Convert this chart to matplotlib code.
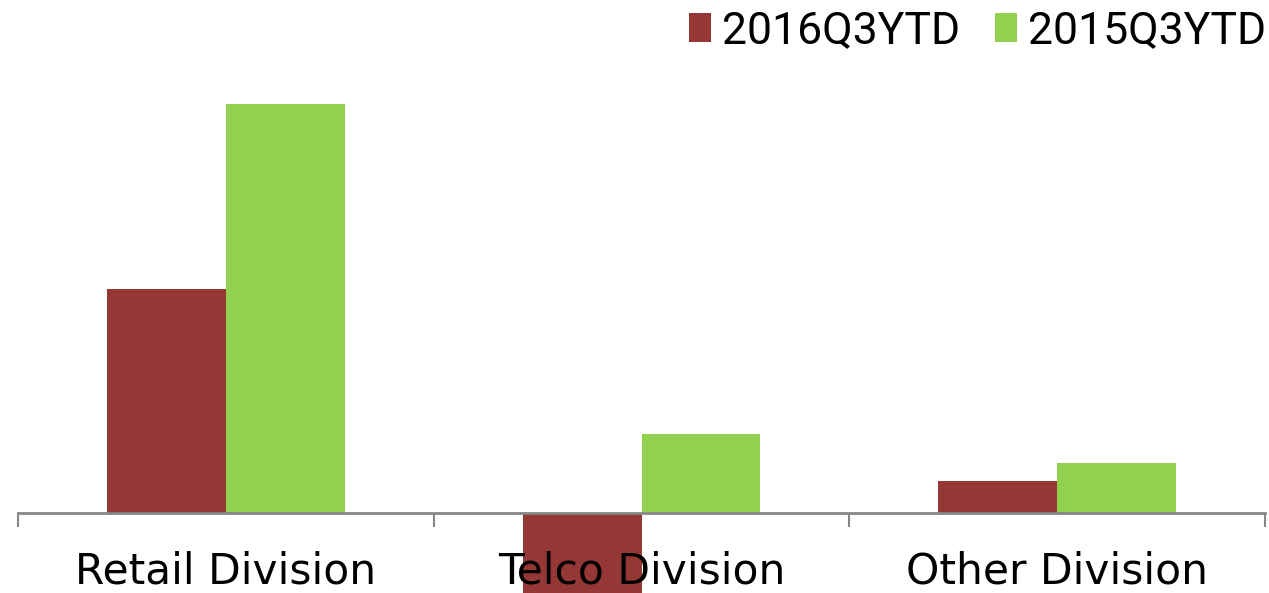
import matplotlib
matplotlib.use("Agg")
import matplotlib.pyplot as plt
from matplotlib.patches import Patch
import numpy as np

categories = ["Retail Division", "Telco Division", "Other Division"]
series_names = ["2016Q3YTD", "2015Q3YTD"]
values_2016 = [224, -85, 32]
values_2015 = [409, 79, 50]
colors = ["#953735", "#92D050"]

LABEL_FONT = ["DejaVu Sans"]
LEG_FONT = ["Roboto", "DejaVu Sans"]
plt.rcParams["font.family"] = LABEL_FONT

W, H = 1269, 593
fig = plt.figure(figsize=(W / 100, H / 100), dpi=100)
ax = fig.add_axes([18 / W, 0, (1265 - 18) / W, 1])
zero_px = 513
ax.set_ylim(-(H - zero_px), zero_px)
ax.set_xlim(-0.5, len(categories) - 0.5)

x = np.arange(len(categories))
bw = 0.286
ax.bar(x - bw / 2, values_2016, width=bw, color=colors[0], zorder=2)
ax.bar(x + bw / 2, values_2015, width=bw, color=colors[1], zorder=2)

for s in ["top", "right", "left"]:
    ax.spines[s].set_visible(False)
ax.spines["bottom"].set_position(("data", 0))
ax.spines["bottom"].set_color("#868686")
ax.spines["bottom"].set_linewidth(2)
ax.spines["bottom"].set_zorder(3)
ax.set_yticks([])
ax.set_xticks(np.arange(-0.5, len(categories), 1.0))
ax.set_xticklabels([])
ax.tick_params(axis="x", direction="out", length=10, width=1.5, color="#868686")
ax.patch.set_visible(False)

for xi, lab in zip(x, categories):
    ax.text(xi, -59, lab, ha="center", va="center", fontsize=30.5,
            color="black", zorder=5, clip_on=False)

handles = [Patch(facecolor=c, edgecolor="none") for c in colors]
leg = fig.legend(handles, series_names, loc="upper right",
           bbox_to_anchor=(1266 / W, 1.0 - 10 / H), ncol=2, frameon=False,
           prop={"family": LEG_FONT, "size": 32}, handlelength=0.5, handleheight=0.61,
           handletextpad=0.25, columnspacing=0.77, borderpad=0,
           borderaxespad=0)

fig.savefig("out.png", dpi=100)
